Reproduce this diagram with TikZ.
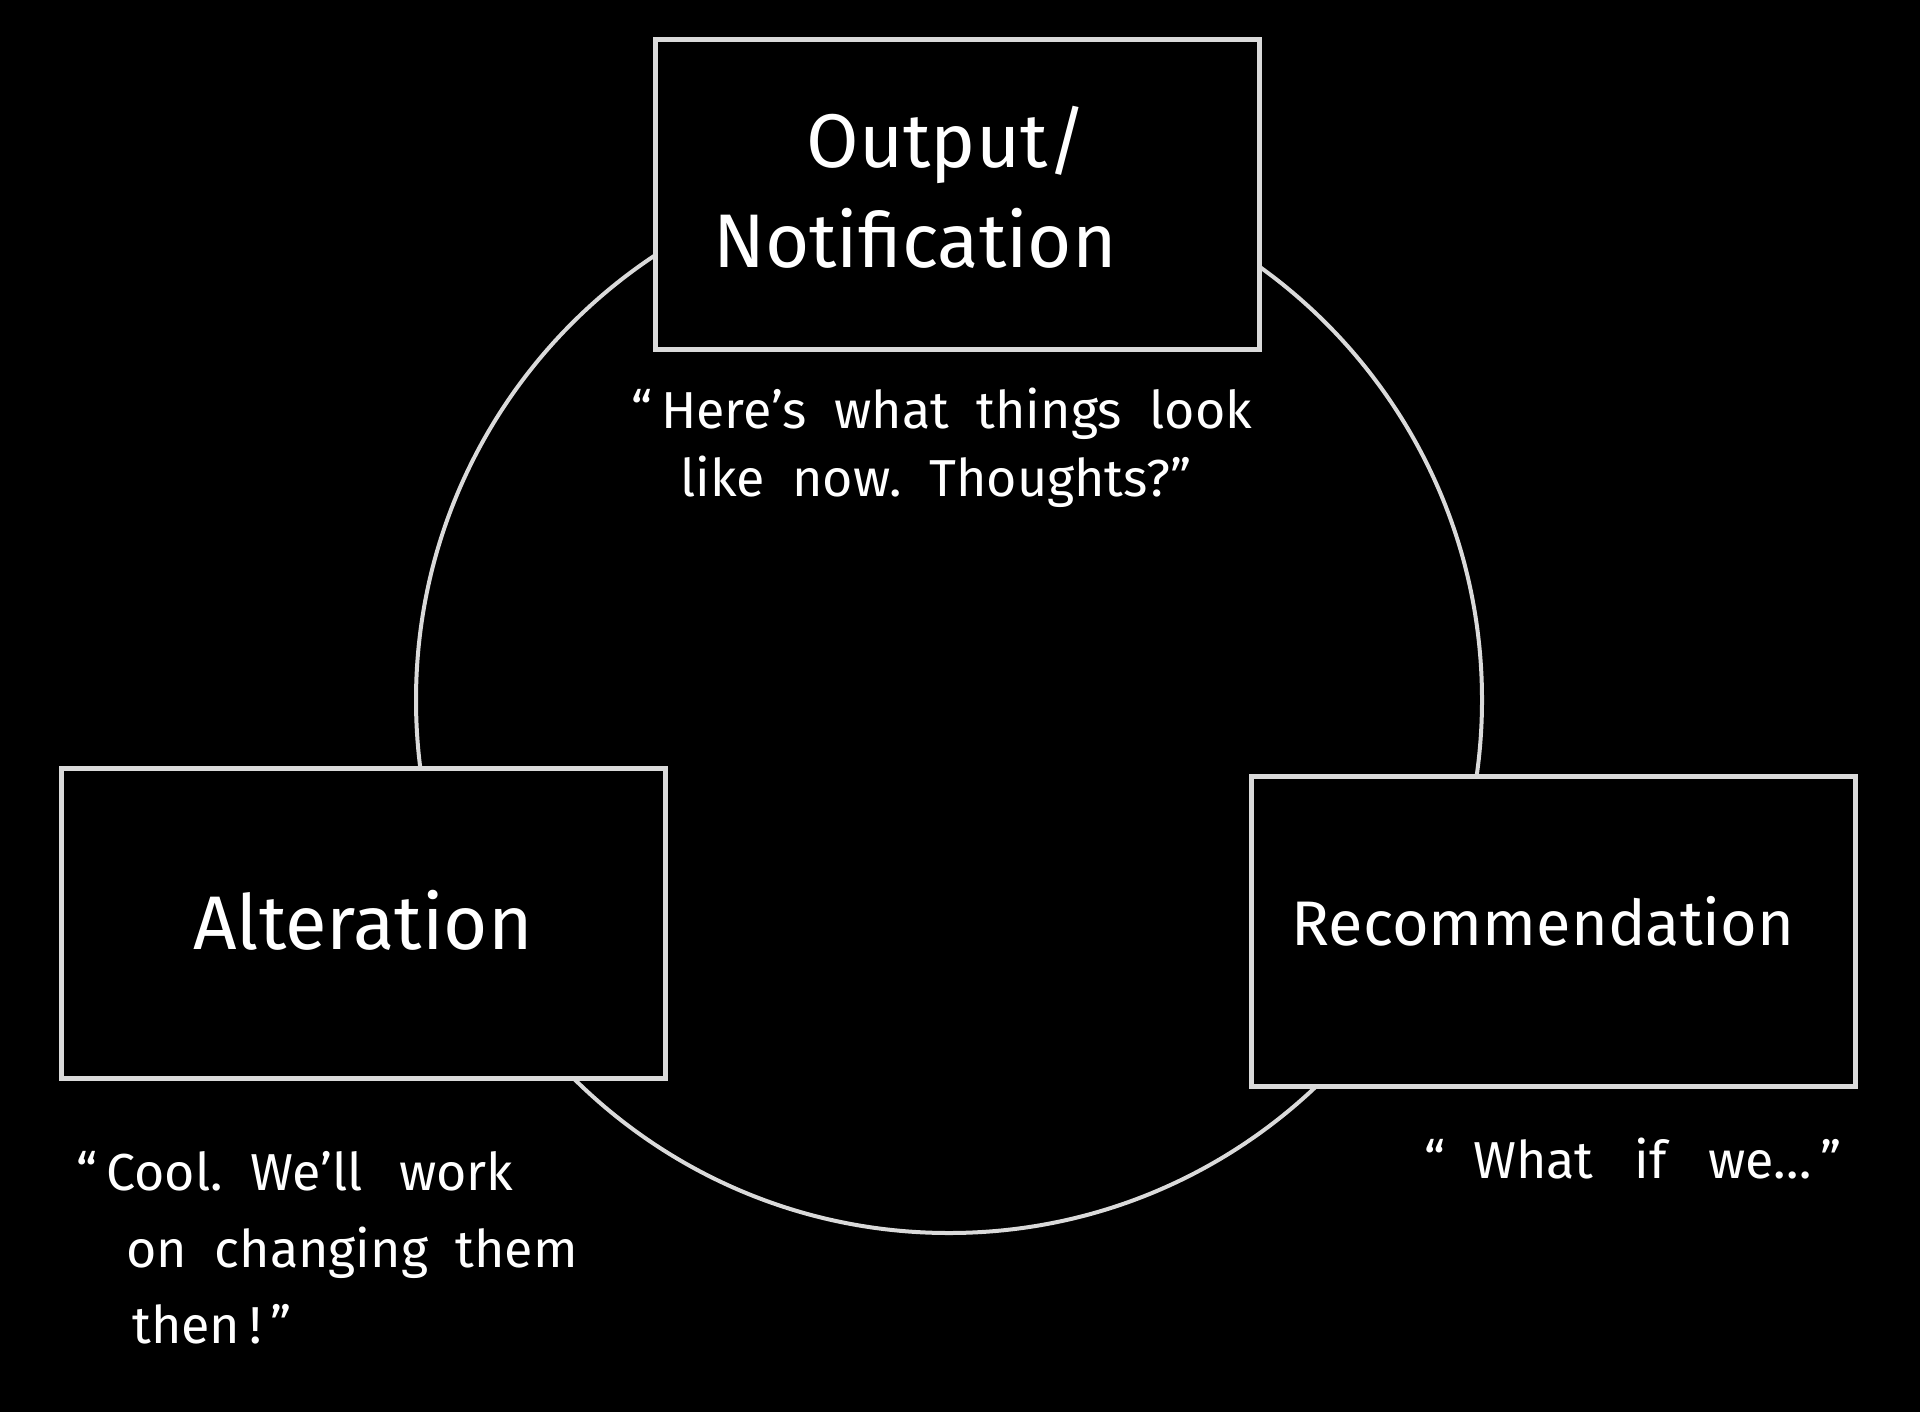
\documentclass[tikz,border=0pt]{standalone}
\usepackage{fontspec}
\setmainfont{Fira Sans}
\definecolor{linegray}{HTML}{DADADA}
\begin{document}
\begin{tikzpicture}[x=0.5pt,y=-0.5pt,
  box/.style={draw=linegray, line width=2.5pt, fill=black, rectangle, inner sep=0pt,
    minimum width=302pt, minimum height=155pt},
  ring/.style={draw=linegray, line width=2pt, circle, inner sep=0pt, minimum size=533pt},
  title/.style={text=white, inner sep=0pt, font=\fontsize{38}{46}\selectfont},
  quote/.style={text=white, inner sep=0pt, anchor=base west, font=\fontsize{26}{31}\selectfont}]
\path[fill=black] (0,0) rectangle (1920,1412);
\useasboundingbox (0,0) rectangle (1920,1412);
% cycle ring
\node[ring] (cyc) at (949,700) {};
% boxes
\node[box] (out) at (957.5,194.5) {};
\node[box] (alt) at (363,923) {};
\node[box] (rec) at (1553.5,931) {};
% titles
\node[title, anchor=base] (t1) at (947,168) {Output/};
\node[title, anchor=base] (t2) at (915,267) {Notification};
\node[title, anchor=base] (t3) at (363,949) {Alteration};
\node[title, anchor=base, font=\fontsize{31.5}{38}\selectfont] (t4) at (1543,945) {Recommendation};
% quotes
\node[quote] (q1) at (631,428) {“\,Here’s\ \ what\ \ things\ \ look};
\node[quote] (q2) at (680,496) {like\ \ now.\ \ Thoughts?”};
\node[quote] (q3) at (76,1190) {“\,Cool.\ \ We’ll\ \ \,work};
\node[quote] (q4) at (126,1267) {on\ \ changing\ \ them};
\node[quote] (q5) at (132,1343) {then\,!\,”};
\node[quote] (q6) at (1424,1178) {“\ \ What\ \ \ if\ \ \ we…\,”};
\end{tikzpicture}
\end{document}
